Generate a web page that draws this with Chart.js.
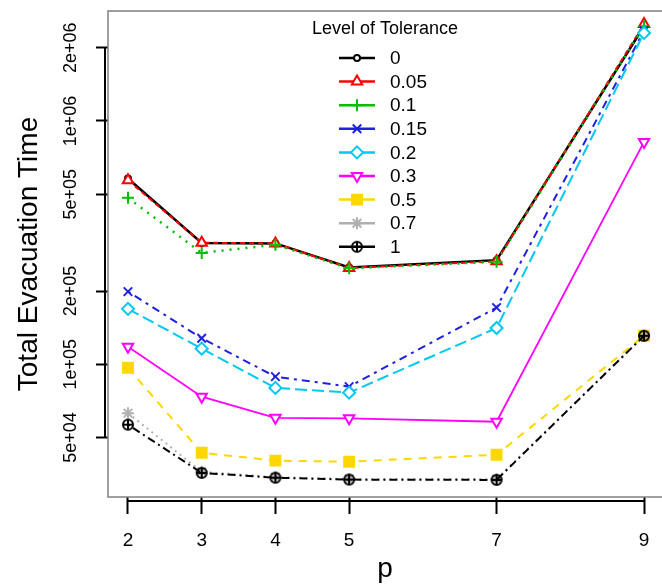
<!DOCTYPE html>
<html>
<head>
<meta charset="utf-8">
<script src="https://cdn.jsdelivr.net/npm/chart.js@4"></script>
<style>
  html, body { margin: 0; padding: 0; background: #fff; overflow: hidden; }
  #wrap { width: 671px; height: 587px; position: relative; }
</style>
</head>
<body>
<div id="wrap"><canvas id="evacChart"></canvas></div>
<script>
// p values on the x axis
const pValues = [2, 3, 4, 5, 7, 9];

// total evacuation time per level of tolerance
const tol0   = [580000, 315000, 314000, 250000, 268000, 2450000];
const tol005 = [570000, 316000, 314000, 249000, 265000, 2500000];
const tol01  = [483000, 287000, 310000, 248000, 264000, 2450000];
const tol015 = [199000, 128000, 89000, 81000, 171000, 2350000];
const tol02  = [169000, 116000, 80000, 76500, 141000, 2300000];
const tol03  = [118000, 73600, 60300, 60000, 58100, 820000];
const tol05  = [96800, 43300, 40200, 39800, 42500, 131000];
const tol07  = [63000, 36200, 34400, 33800, 33800, 131000];
const tol1   = [56500, 35800, 34200, 33600, 33500, 131000];

const levelNames = ['0', '0.05', '0.1', '0.15', '0.2', '0.3', '0.5', '0.7', '1'];
const yTickValues = [50000, 100000, 200000, 500000, 1000000, 2000000];
const yTickLabels = ['5e+04', '1e+05', '2e+05', '5e+05', '1e+06', '2e+06'];

// circle with a plus inside (R pch 10)
function circlePlus(color) {
    let c = document.createElement('canvas');
    c.width = 14; c.height = 14;
    let g = c.getContext('2d');
    g.strokeStyle = color;
    g.lineWidth = 2;
    g.beginPath();
    g.arc(7, 7, 5, 0, Math.PI * 2);
    g.moveTo(2, 7); g.lineTo(12, 7);
    g.moveTo(7, 2); g.lineTo(7, 12);
    g.stroke();
    return c;
}

const seriesData = [tol0, tol005, tol01, tol015, tol02, tol03, tol05, tol07, tol1];
const styles = [
    { color: '#000000', dash: [], width: 2.5, point: 'circle', radius: 3, rot: 0, fill: '#ffffff' },
    { color: '#ff0000', dash: [5, 4], width: 2, point: 'triangle', radius: 6, rot: 0, fill: '#ffffff' },
    { color: '#00c000', dash: [2, 6], width: 2.5, point: 'cross', radius: 6, rot: 0, fill: '#ffffff' },
    { color: '#2020e0', dash: [3, 5, 8, 5], width: 2, point: 'crossRot', radius: 6, rot: 0, fill: '#ffffff' },
    { color: '#00c8f0', dash: [12, 5], width: 2, point: 'rectRot', radius: 6, rot: 0, fill: '#ffffff' },
    { color: '#ff00ff', dash: [], width: 1.8, point: 'triangle', radius: 6, rot: 180, fill: '#ffffff' },
    { color: '#ffd700', dash: [8, 7], width: 2, point: 'rect', radius: 7, rot: 0, fill: '#ffd700' },
    { color: '#b0b0b0', dash: [2, 4], width: 2, point: 'star', radius: 6, rot: 0, fill: '#b0b0b0' },
    { color: '#000000', dash: [2, 4, 8, 4], width: 2, point: circlePlus('#000000'), radius: 6, rot: 0, fill: '#000000' }
];

let datasets = [];
for (let i = 0; i < seriesData.length; i++) {
    let s = styles[i];
    let pts = [];
    for (let j = 0; j < pValues.length; j++) {
        pts.push({ x: pValues[j], y: seriesData[i][j] });
    }
    datasets.push({
        label: levelNames[i],
        data: pts,
        borderColor: s.color,
        backgroundColor: s.fill,
        borderWidth: s.width,
        borderDash: s.dash,
        pointStyle: s.point,
        pointRadius: s.radius,
        pointRotation: s.rot,
        pointBorderWidth: 2,
        pointBorderColor: s.color,
        pointBackgroundColor: s.fill,
        order: seriesData.length - i,
        tension: 0
    });
}

// R-style box, offset axis lines and legend
const rStyle = {
    id: 'rStyle',
    afterDraw(chart) {
        const ctx = chart.ctx;
        const a = chart.chartArea;
        const xs = chart.scales.x;
        const ys = chart.scales.y;
        ctx.save();
        ctx.strokeStyle = '#808080';
        ctx.lineWidth = 1.5;
        ctx.strokeRect(a.left, a.top, a.right - a.left + 10, a.bottom - a.top);

        ctx.strokeStyle = '#000';
        ctx.lineWidth = 2;
        ctx.beginPath();
        ctx.moveTo(a.left - 3, ys.getPixelForValue(yTickValues[yTickValues.length - 1]));
        ctx.lineTo(a.left - 3, ys.getPixelForValue(yTickValues[0]));
        ctx.moveTo(xs.getPixelForValue(pValues[0]), a.bottom + 4);
        ctx.lineTo(xs.getPixelForValue(pValues[pValues.length - 1]), a.bottom + 4);
        ctx.stroke();

        // legend
        ctx.fillStyle = '#000';
        ctx.font = '18px "Liberation Sans", Arial, sans-serif';
        ctx.textAlign = 'center';
        ctx.textBaseline = 'middle';
        ctx.fillText('Level of Tolerance', 385, 29);
        ctx.font = '19px "Liberation Sans", Arial, sans-serif';
        ctx.textAlign = 'left';
        chart.data.datasets.forEach(function(ds, i) {
            let y = 58 + i * 23.6;
            ctx.strokeStyle = ds.borderColor;
            ctx.lineWidth = 2.5;
            ctx.setLineDash([]);
            ctx.beginPath();
            ctx.moveTo(339, y);
            ctx.lineTo(375, y);
            ctx.stroke();
            ctx.lineWidth = 2;
            ctx.fillStyle = ds.pointBackgroundColor;
            Chart.helpers.drawPoint(ctx, {
                pointStyle: ds.pointStyle,
                radius: ds.pointRadius,
                rotation: ds.pointRotation,
                borderWidth: 2
            }, 357, y);
            ctx.fillStyle = '#000';
            ctx.fillText(ds.label, 390, y + 1);
        });
        ctx.restore();
    }
};

new Chart(document.getElementById('evacChart'), {
    type: 'line',
    data: { datasets: datasets },
    plugins: [rStyle],
    options: {
        responsive: true,
        maintainAspectRatio: false,
        animation: false,
        devicePixelRatio: 1,
        layout: { padding: { left: 0, top: 11, right: 0, bottom: 0 } },
        plugins: { legend: { display: false }, tooltip: { enabled: false } },
        scales: {
            x: {
                type: 'linear',
                min: 1.729,
                max: 9.244,
                afterBuildTicks: function(scale) {
                    scale.ticks = pValues.map(function(v) { return { value: v }; });
                },
                afterFit: function(scale) {
                    scale.height = 90;
                    scale.paddingLeft = 0;
                    scale.paddingRight = 0;
                },
                border: { display: false },
                grid: { drawOnChartArea: false, drawTicks: true, tickLength: 17, color: '#000', tickWidth: 2 },
                ticks: {
                    color: '#000',
                    padding: 15,
                    font: { family: '"Liberation Sans", Arial, sans-serif', size: 19 },
                    maxRotation: 0,
                    callback: function(v) { return String(v); }
                },
                title: {
                    display: true,
                    text: 'p',
                    color: '#000',
                    font: { family: '"Liberation Sans", Arial, sans-serif', size: 28 },
                    padding: { top: 0, bottom: 1 }
                }
            },
            y: {
                type: 'logarithmic',
                min: 28500,
                max: 2830000,
                afterBuildTicks: function(scale) {
                    scale.ticks = yTickValues.map(function(v) { return { value: v }; });
                },
                afterFit: function(scale) {
                    scale.width = 108;
                    scale.paddingTop = 0;
                    scale.paddingBottom = 0;
                },
                border: { display: false },
                grid: { drawOnChartArea: false, drawTicks: true, tickLength: 12, color: '#000', tickWidth: 2 },
                ticks: {
                    color: '#000',
                    padding: 0,
                    minRotation: 90,
                    maxRotation: 90,
                    crossAlign: 'center',
                    font: { family: '"Liberation Sans", Arial, sans-serif', size: 18 },
                    callback: function(v) {
                        let k = yTickValues.indexOf(v);
                        return k >= 0 ? yTickLabels[k] : '';
                    }
                },
                title: {
                    display: true,
                    text: 'Total Evacuation Time',
                    color: '#000',
                    font: { family: '"Liberation Sans", Arial, sans-serif', size: 28 },
                    padding: { top: 12, bottom: 0 }
                }
            }
        }
    }
});
</script>
</body>
</html>
